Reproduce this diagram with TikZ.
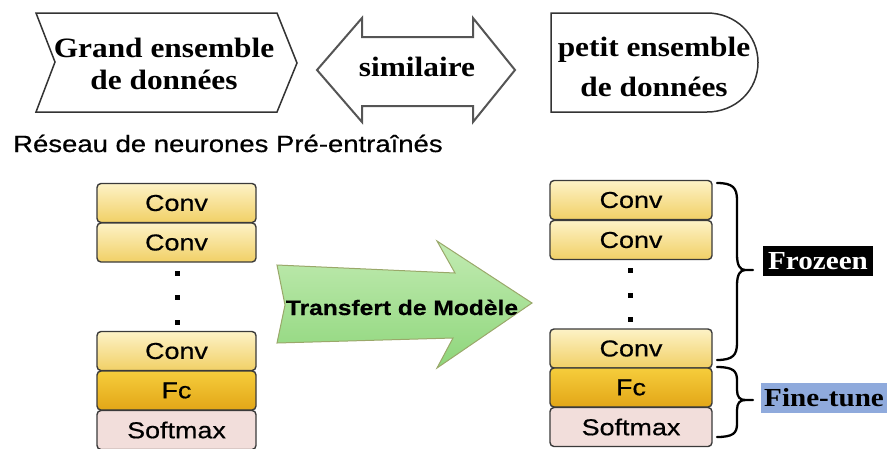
\documentclass[tikz,border=0pt]{standalone}
\usepackage{fontspec}
\setmainfont{Liberation Serif}
\newfontfamily\serifb[FakeStretch=1.12]{Liberation Serif}
\newfontfamily\sansw[FakeStretch=1.17,FakeBold=0.5]{Liberation Sans}
\definecolor{bordc}{HTML}{3A3A3A}
\definecolor{convtop}{HTML}{FDF2C6}
\definecolor{convbot}{HTML}{F1D066}
\definecolor{fctop}{HTML}{F6CD3C}
\definecolor{fcbot}{HTML}{E2A617}
\definecolor{softc}{HTML}{F2DEDB}
\definecolor{gtop}{HTML}{C2EBB2}
\definecolor{gbot}{HTML}{8ED67B}
\definecolor{gborder}{HTML}{9AA86A}
\definecolor{fineblue}{HTML}{8FAADC}
\definecolor{shapec}{HTML}{333333}
\definecolor{dblc}{HTML}{555555}
\begin{document}
\begin{tikzpicture}[x=1pt,y=-1pt,
  layer/.style={draw=bordc, line width=1.4pt, rounded corners=4pt, minimum width=159pt, minimum height=39pt, inner sep=0pt, font=\sansw\fontsize{23}{26}\selectfont},
  conv/.style={layer, top color=convtop, bottom color=convbot},
  fclayer/.style={layer, top color=fctop, bottom color=fcbot},
  softlayer/.style={layer, fill=softc},
  dotbox/.style={fill=black, inner sep=0pt, minimum size=5pt},
  titletext/.style={font=\serifb\bfseries\fontsize{28}{32}\selectfont, align=center, inner sep=0pt},
  shapeline/.style={draw=shapec, line width=1.5pt, fill=white, line join=miter},
  dblline/.style={draw=dblc, line width=2pt, fill=white, line join=miter},
  bracel/.style={draw=black, line width=2.3pt, line cap=round},
  labeltext/.style={font=\serifb\bfseries\fontsize{26}{28}\selectfont, minimum height=30pt, inner ysep=0pt},
]
\useasboundingbox (0,0) rectangle (890,448);

% top-left chevron
\draw[shapeline] (36,13) -- (277,13) -- (297,63) -- (277,112) -- (36,112) -- (55,62) -- cycle;
\node[titletext] (big) at (164,64) {Grand ensemble\\de données};

% double arrow
\draw[dblline] (317,70) -- (362,18) -- (362,37) -- (473,37) -- (473,18) -- (515,70) -- (473,122) -- (473,106) -- (362,106) -- (362,122) -- cycle;
\node[titletext] (sim) at (417,67) {similaire};

% right rounded shape
\draw[shapeline] (551,13) -- (707,13) .. controls (736,13) and (758,35) .. (758,62.5) .. controls (758,90) and (736,112) .. (707,112) -- (551,112) -- cycle;
\node[titletext, font=\serifb\bfseries\fontsize{28}{40}\selectfont] (small) at (654,67) {petit ensemble\\de données};

% caption
\node[anchor=base west, inner sep=0pt, font=\sansw\fontsize{23.5}{26}\selectfont] (reseau) at (13,152) {Réseau de neurones Pré-entraînés};

% left stack
\node[conv] (l1) at (176.5,203) {Conv};
\node[conv] (l2) at (176.5,242.5) {Conv};
\node[dotbox] (ld1) at (177,273) {};
\node[dotbox] (ld2) at (177,297) {};
\node[dotbox] (ld3) at (177,322) {};
\node[conv] (l3) at (176.5,351) {Conv};
\node[fclayer] (l4) at (176.5,390.5) {Fc};
\node[softlayer] (l5) at (176.5,430) {Softmax};

% right stack
\node[conv, minimum width=162pt] (r1) at (631,200) {Conv};
\node[conv, minimum width=162pt] (r2) at (631,240) {Conv};
\node[dotbox] (rd1) at (630,270) {};
\node[dotbox] (rd2) at (630,295) {};
\node[dotbox] (rd3) at (630,319) {};
\node[conv, minimum width=162pt] (r3) at (631,348.5) {Conv};
\node[fclayer, minimum width=162pt] (r4) at (631,387.5) {Fc};
\node[softlayer, minimum width=162pt] (r5) at (631,427) {Softmax};

% green transfer arrow
\draw[top color=gtop, bottom color=gbot, draw=gborder, line width=1pt, line join=miter]
  (277,265) -- (455,273) -- (437,241) -- (532,303) -- (437,368) -- (453,338) -- (277,343) -- (285,305) -- cycle;
\node[anchor=base, inner sep=0pt, font=\sansw\bfseries\fontsize{21}{24}\selectfont] (transfer) at (402,315) {Transfert de Modèle};

% braces
\draw[bracel] (717,183) .. controls (733,183) and (737,188) .. (737,200) -- (737,255)
  .. controls (737,265) and (740,270) .. (745,270) -- (753,270);
\draw[bracel] (745,270) .. controls (740,270) and (737,275) .. (737,285) -- (737,343)
  .. controls (737,355) and (733,360) .. (717,360);
\draw[bracel] (717,367) .. controls (733,367) and (737,371) .. (737,380) -- (737,390)
  .. controls (737,397) and (740,400) .. (745,400) -- (753,400);
\draw[bracel] (745,400) .. controls (740,400) and (737,403) .. (737,410) -- (737,424)
  .. controls (737,433) and (733,437) .. (717,437);

% labels
\node[labeltext, fill=black, text=white, minimum width=110pt, inner xsep=0pt] (froz) at (818,261) {Frozeen};
\node[labeltext, fill=fineblue, anchor=west, inner xsep=3pt] (fine) at (761,398) {Fine-tune};
\end{tikzpicture}
\end{document}
